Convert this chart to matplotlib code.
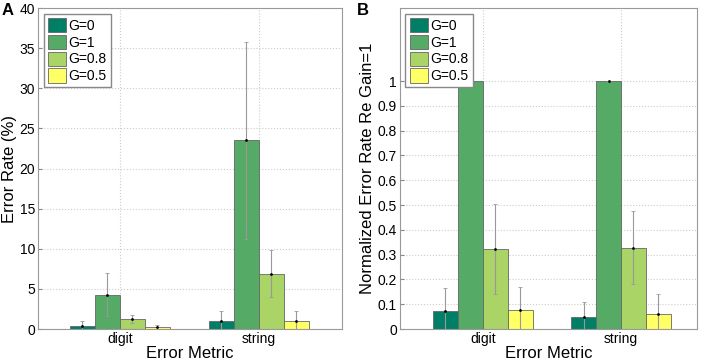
import numpy as np
import matplotlib.pyplot as plt

plt.rcParams['font.family'] = ['Liberation Sans', 'DejaVu Sans']

categories = ['digit', 'string']
gains = ['G=0', 'G=1', 'G=0.8', 'G=0.5']
colors = ['#007f66', '#55aa66', '#aad466', '#ffff66']  # matlab "summer"

# panel A: error rate (%)
rate = [[0.4, 1.0], [4.3, 23.5], [1.2, 6.9], [0.25, 1.0]]
rate_err = [[0.6, 1.3], [2.7, 12.3], [0.5, 2.9], [0.2, 1.2]]

# panel B: normalized to gain=1
norm = [[0.071, 0.047], [1.0, 1.0], [0.323, 0.327], [0.078, 0.062]]
norm_err = [[0.094, 0.063], [0.0, 0.0], [0.183, 0.147], [0.092, 0.079]]

fig = plt.figure(figsize=(7.09, 3.61), dpi=100)
axA = fig.add_axes([0.0536, 0.0886, 0.4288, 0.889])
axB = fig.add_axes([0.564, 0.0886, 0.419, 0.889])

def draw(ax, vals, errs, xlim, ylim, yticks, ylabel):
    x = np.arange(1, len(categories) + 1)
    w = 0.18
    for i, g in enumerate(gains):
        pos = x + (i - 1.5) * w
        ax.bar(pos, vals[i], w, color=colors[i], edgecolor='#666666',
               linewidth=0.6, label=g, zorder=2)
        ax.errorbar(pos, vals[i], yerr=errs[i], fmt='o', ms=1.0,
                    color='black', ecolor='#999999', elinewidth=0.8,
                    capsize=1.2, capthick=0.6, zorder=3)
    ax.set_xlim(*xlim)
    ax.set_ylim(*ylim)
    ax.set_xticks(x)
    ax.set_xticklabels(categories, fontsize=10)
    ax.set_yticks(yticks)
    ax.set_yticklabels([('%g' % t) for t in yticks], fontsize=10)
    ax.tick_params(direction='in', length=3, color='#888888', pad=2)
    ax.grid(True, linestyle=':', color='#cccccc', linewidth=0.8, zorder=0)
    ax.set_axisbelow(True)
    for s in ax.spines.values():
        s.set_color('#999999')
    ax.set_xlabel('Error Metric', fontsize=12, labelpad=0)
    ax.set_ylabel(ylabel, fontsize=12, labelpad=2)
    leg = ax.legend(loc='upper left', fontsize=10, handlelength=1.3,
                    handleheight=1.2, handletextpad=0.2, labelspacing=0.15,
                    borderpad=0.3, borderaxespad=0.4, fancybox=False,
                    framealpha=1)
    leg.get_frame().set_edgecolor('#888888')

draw(axA, rate, rate_err, (0.41, 2.6), (0, 40), np.arange(0, 41, 5),
     'Error Rate (%)')
draw(axB, norm, norm_err, (0.4, 2.55), (0, 1.294),
     np.round(np.arange(0, 1.01, 0.1), 1), 'Normalized Error Rate Re Gain=1')

fig.text(0.002, 0.958, 'A', fontsize=12, fontweight='bold')
fig.text(0.503, 0.958, 'B', fontsize=12, fontweight='bold')

fig.savefig('out.png', dpi=100)
